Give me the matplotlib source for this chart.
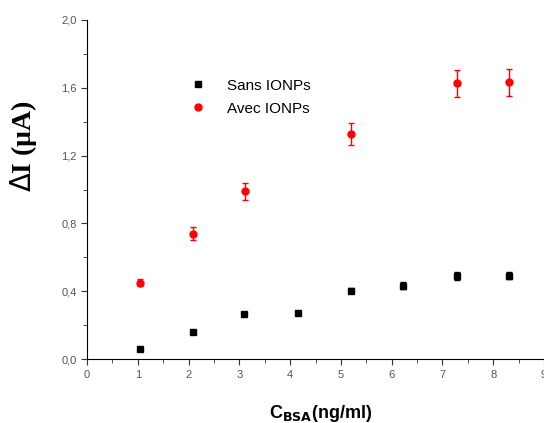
import numpy as np
import matplotlib.pyplot as plt
from matplotlib.lines import Line2D
from matplotlib.ticker import MultipleLocator, FuncFormatter

# Sans IONPs (carrés noirs)
x_sans = [1.04, 2.08, 3.10, 4.15, 5.20, 6.23, 7.28, 8.32]
y_sans = [0.058, 0.162, 0.265, 0.270, 0.402, 0.433, 0.490, 0.492]
err_sans = [0.008, 0.010, 0.010, 0.012, 0.015, 0.020, 0.022, 0.022]

# Avec IONPs (points rouges)
x_avec = [1.04, 2.08, 3.12, 5.20, 7.28, 8.32]
y_avec = [0.450, 0.740, 0.990, 1.330, 1.625, 1.632]
err_avec = [0.020, 0.040, 0.050, 0.065, 0.080, 0.080]

plt.rcParams['font.family'] = ['Liberation Sans', 'DejaVu Sans']

fig = plt.figure(figsize=(5.44, 4.23), dpi=100)
ax = fig.add_axes([0.16, 0.151, 0.84, 0.802])

ax.errorbar(x_sans, y_sans, yerr=err_sans, fmt='s', color='black', ms=5,
            ecolor='black', elinewidth=1, capsize=2.5)
ax.errorbar(x_avec, y_avec, yerr=err_avec, fmt='o', color='red', ms=5,
            ecolor='red', elinewidth=1, capsize=2.5)

ax.set_xlim(0, 9)
ax.set_ylim(0, 2.0)
ax.xaxis.set_major_locator(MultipleLocator(1))
ax.xaxis.set_minor_locator(MultipleLocator(0.5))
ax.yaxis.set_major_locator(MultipleLocator(0.4))
ax.yaxis.set_minor_locator(MultipleLocator(0.2))
ax.yaxis.set_major_formatter(FuncFormatter(lambda v, p: f"{v:.1f}".replace('.', ',')))

for s in ['top', 'right']:
    ax.spines[s].set_visible(False)
ax.tick_params(which='both', direction='out', colors='#333333', labelsize=8,
               labelcolor='#555555')
ax.tick_params(which='major', length=4)
ax.tick_params(which='minor', length=3)

# titres des axes
fig.text(0.044, 0.655, r"$\Delta$I (µA)", rotation=90, ha='center', va='center',
         fontsize=20, fontweight='bold', family='Liberation Serif')
fig.text(0.590, 0.022, r"C$_{\mathbf{BSA}}$(ng/ml)", ha='center', va='center',
         fontsize=13, fontweight='bold')

handles = [Line2D([], [], ls='none', marker='s', color='black', ms=5),
           Line2D([], [], ls='none', marker='o', color='red', ms=5)]
ax.legend(handles, ['Sans IONPs', 'Avec IONPs'], loc='upper left',
          bbox_to_anchor=(0.195, 0.845), frameon=False, fontsize=11,
          handletextpad=0.95, borderaxespad=0, labelspacing=0.6)

fig.savefig('out.png', dpi=100)
